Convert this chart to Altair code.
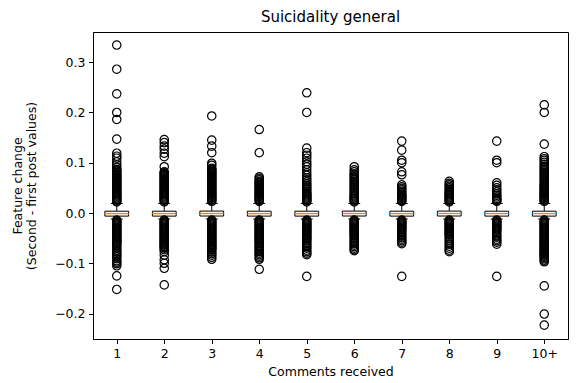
import altair as alt
import pandas as pd

categories = ["1", "2", "3", "4", "5", "6", "7", "8", "9", "10+"]
positions = [1, 2, 3, 4, 5, 6, 7, 8, 9, 10]

# Box statistics (feature change)
q1 = [-0.0062, -0.0062, -0.0060, -0.0062, -0.0062, -0.0060, -0.0062, -0.0060, -0.0062, -0.0062]
q3 = [0.0036, 0.0036, 0.0038, 0.0036, 0.0036, 0.0038, 0.0036, 0.0038, 0.0036, 0.0036]
medians = [-0.0012, -0.0012, -0.0010, -0.0012, -0.0012, -0.0010, -0.0012, -0.0010, -0.0012, -0.0012]
whisker_low = [-0.012, -0.012, -0.012, -0.012, -0.012, -0.012, -0.012, -0.012, -0.012, -0.012]
whisker_high = [0.019, 0.019, 0.019, 0.019, 0.019, 0.019, 0.019, 0.019, 0.019, 0.019]

# Outliers, in thousandths
out_1 = [334, 286, 237, 200, 186, 147, 119, 113, 109, 102, 96, 91, 87, 85, 83, 80, 78, 76, 74, 72, 70, 68,
         66, 64, 62, 60, 58, 56, 54, 52, 50, 48, 46, 44, 42, 40, 38, 36, 34, 32, 30, 28, 26, 24, 22,
         -14, -16, -18, -20, -22, -24, -26, -28, -30, -32, -34, -36, -38, -40, -42, -44, -46, -48, -50,
         -52, -54, -56, -58, -60, -63, -66, -70, -74, -77, -81, -84, -87, -91, -95, -98, -101, -105, -125, -152]
out_2 = [146, 140, 133, 127, 119, 112, 92, 82, 80, 78, 76, 74, 72, 70, 68, 66, 64, 62, 60, 58, 56, 54, 52,
         50, 48, 46, 44, 42, 40, 38, 36, 34, 32, 30, 28, 26, 24, 22,
         -14, -16, -18, -20, -22, -24, -26, -28, -30, -32, -34, -36, -38, -40, -42, -44, -46, -48, -50,
         -52, -54, -56, -58, -60, -62, -64, -66, -68, -70, -73, -77, -84, -93, -100, -110, -143]
out_3 = [193, 145, 133, 120, 99, 95, 89, 87, 85, 83, 81, 79, 77, 75, 73, 71, 69, 67, 65, 63, 61, 59, 57,
         55, 53, 51, 49, 47, 45, 43, 41, 39, 37, 35, 33, 31, 29, 27, 25, 23,
         -14, -16, -18, -20, -22, -24, -26, -28, -30, -32, -34, -36, -38, -40, -42, -44, -46, -48, -50,
         -52, -54, -56, -58, -60, -62, -64, -66, -68, -70, -72, -74, -78, -81, -84, -88, -92]
out_4 = [166, 120, 72, 69, 66, 63, 61, 59, 57, 55, 53, 51, 49, 47, 45, 43, 41, 39, 37, 35, 33, 31, 29, 27,
         25, 23,
         -14, -16, -18, -20, -22, -24, -26, -28, -30, -32, -34, -36, -38, -40, -42, -44, -46, -48, -50,
         -52, -54, -56, -58, -61, -64, -66, -69, -72, -75, -77, -80, -83, -86, -89, -92, -112]
out_5 = [239, 200, 129, 120, 115, 109, 102, 97, 92, 86, 80, 75, 70, 66, 62, 58, 55, 52, 49, 46, 43, 40,
         38, 36, 34, 32, 30, 28, 26, 24, 22,
         -14, -16, -18, -20, -22, -24, -26, -28, -30, -32, -34, -36, -38, -40, -42, -44, -46, -48, -50,
         -52, -55, -58, -61, -64, -67, -70, -74, -77, -80, -83, -126]
out_6 = [92, 86, 82, 78, 75, 72, 69, 66, 63, 60, 57, 54, 51, 48, 45, 42, 39, 36, 34, 32, 30, 28, 26, 24, 22,
         -14, -16, -18, -20, -22, -24, -26, -28, -30, -32, -34, -36, -38, -40, -42, -44, -46, -49, -52,
         -55, -58, -61, -64, -67, -70, -73, -75]
out_7 = [143, 125, 105, 100, 82, 76, 56, 52, 49, 46, 43, 40, 37, 35, 33, 31, 29, 27, 25, 23,
         -14, -16, -18, -20, -22, -24, -26, -28, -30, -32, -34, -37, -40, -43, -46, -49, -52, -55, -58,
         -61, -126]
out_8 = [63, 59, 56, 53, 50, 47, 44, 42, 40, 38, 36, 34, 32, 30, 28, 26, 24, 22,
         -14, -16, -18, -20, -22, -24, -26, -28, -30, -32, -34, -36, -38, -40, -42, -44, -47, -50, -54,
         -58, -62, -66, -70, -74, -77]
out_9 = [143, 105, 100, 60, 55, 50, 46, 42, 38, 35, 32, 29, 27, 25, 23,
         -14, -16, -18, -20, -22, -24, -26, -28, -30, -32, -34, -37, -41, -45, -48, -52, -55, -58, -62, -126]
out_10 = [215, 200, 137, 112, 108, 105, 101, 97, 93, 90, 87, 84, 81, 78, 75, 72, 69, 66, 63, 60, 57, 55,
          53, 51, 49, 47, 45, 43, 41, 39, 37, 35, 33, 31, 29, 27, 25, 23,
          -14, -16, -18, -20, -22, -24, -26, -28, -30, -32, -34, -36, -38, -40, -42, -44, -46, -48, -50,
          -52, -54, -56, -58, -60, -62, -64, -66, -68, -70, -72, -74, -76, -78, -80, -82, -84, -86, -88,
          -91, -94, -97, -145, -201, -223]

outliers = [out_1, out_2, out_3, out_4, out_5, out_6, out_7, out_8, out_9, out_10]

box_df = pd.DataFrame({
    "pos": positions, "cat": categories, "q1": q1, "q3": q3,
    "med": medians, "lo": whisker_low, "hi": whisker_high,
})
out_rows = []
for p, vals in zip(positions, outliers):
    for v in vals:
        out_rows.append({"pos": p, "value": v / 1000.0})
out_df = pd.DataFrame(out_rows)

FONT = "DejaVu Sans"
label_expr = "[" + ",".join("'%s'" % c for c in categories) + "][datum.value - 1]"

xscale = alt.Scale(domain=[0.5, 10.5], nice=False, zero=False)
yscale = alt.Scale(domain=[-0.2506, 0.360], nice=False, zero=False)

xaxis = alt.Axis(values=positions, labelExpr=label_expr, title="Comments received",
                 grid=False, labelAngle=0, titlePadding=6)
yaxis = alt.Axis(values=[-0.2, -0.1, 0.0, 0.1, 0.2, 0.3], format=".1f",
                 title=["Feature change", "(Second - first post values)"],
                 grid=False, titlePadding=16)

base = alt.Chart(box_df).transform_calculate(
    bl="datum.pos - 0.25", br="datum.pos + 0.25",
    cl="datum.pos - 0.125", cr="datum.pos + 0.125",
)

whisk_lo = base.mark_rule(color="black", strokeWidth=1).encode(
    x=alt.X("pos:Q", scale=xscale, axis=xaxis),
    y=alt.Y("lo:Q", scale=yscale, axis=yaxis),
    y2="q1:Q",
)
whisk_hi = base.mark_rule(color="black", strokeWidth=1).encode(
    x=alt.X("pos:Q", scale=xscale), y=alt.Y("q3:Q", scale=yscale), y2="hi:Q",
)
cap_lo = base.mark_rule(color="black", strokeWidth=1).encode(
    x=alt.X("cl:Q", scale=xscale), x2="cr:Q", y=alt.Y("lo:Q", scale=yscale),
)
cap_hi = base.mark_rule(color="black", strokeWidth=1).encode(
    x=alt.X("cl:Q", scale=xscale), x2="cr:Q", y=alt.Y("hi:Q", scale=yscale),
)
boxes = base.mark_rect(fill="white", stroke="black", strokeWidth=1).encode(
    x=alt.X("bl:Q", scale=xscale), x2="br:Q",
    y=alt.Y("q1:Q", scale=yscale), y2="q3:Q",
)
meds = base.mark_rule(color="#ff7f0e", strokeWidth=1.3).encode(
    x=alt.X("bl:Q", scale=xscale), x2="br:Q", y=alt.Y("med:Q", scale=yscale),
)
fliers = alt.Chart(out_df).mark_point(
    shape="circle", filled=False, stroke="black", strokeWidth=1.2, size=70, opacity=1
).encode(
    x=alt.X("pos:Q", scale=xscale), y=alt.Y("value:Q", scale=yscale),
)

chart = alt.layer(whisk_lo, whisk_hi, cap_lo, cap_hi, boxes, meds, fliers).properties(
    width=475, height=307,
    background="white",
    title=alt.TitleParams("Suicidality general", font=FONT, fontSize=15,
                          fontWeight="normal", color="black", offset=7),
    autosize=alt.AutoSizeParams(type="none"),
    padding={"left": 93, "top": 32, "right": 19, "bottom": 44},
).configure_view(
    stroke="black", strokeWidth=1
).configure_axis(
    labelFont=FONT, labelFontSize=12.5, labelColor="black",
    titleFont=FONT, titleFontSize=12.5, titleFontWeight="normal", titleColor="black",
    domainColor="black", domainWidth=1, tickColor="black", tickWidth=1, tickSize=4.5,
    labelPadding=3.5,
)

chart.save("out.html", embed_options={"renderer": "svg", "actions": False})
